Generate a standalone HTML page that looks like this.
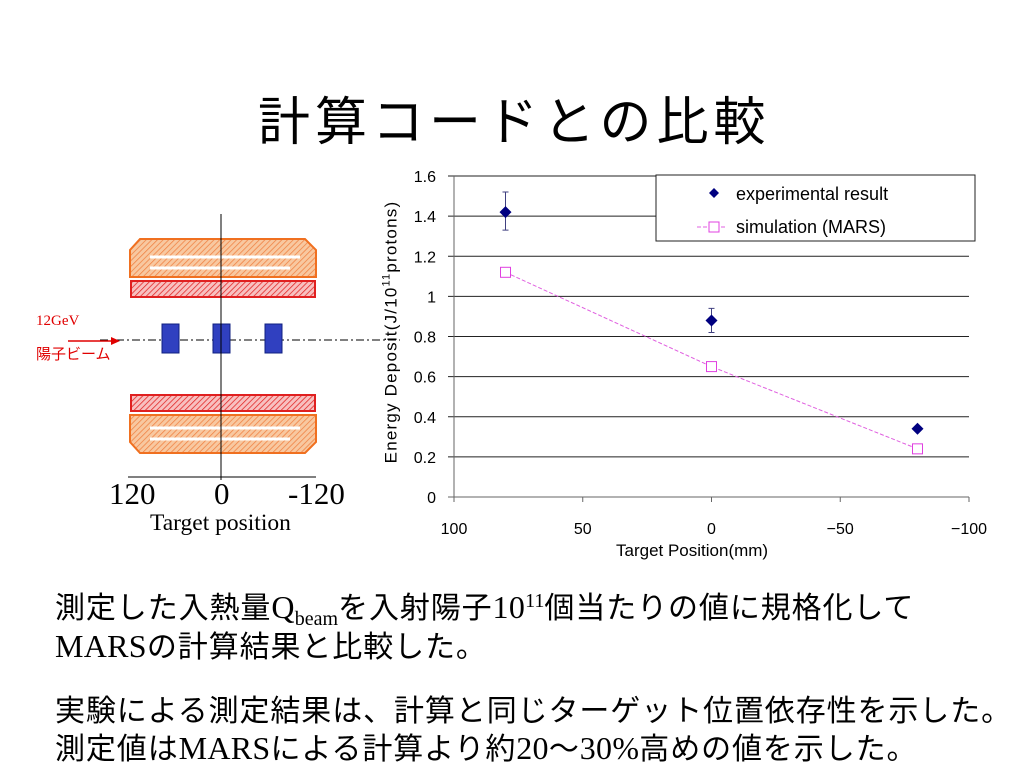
<!DOCTYPE html>
<html><head><meta charset="utf-8"><style>
body{margin:0;width:1024px;height:768px;background:#fff;overflow:hidden;position:relative;font-family:"Liberation Sans","Noto Sans CJK JP",sans-serif}
.t{position:absolute;white-space:nowrap}
.jp{font-family:"Liberation Serif","Noto Sans CJK JP",serif}
.body{font-size:30px;letter-spacing:0.9px;font-family:'Liberation Serif','Noto Sans CJK JP',serif}
.l{font-size:32px;letter-spacing:0.3px}
</style></head><body>
<div class="t" style="left:258px;top:80px;font-size:52px;letter-spacing:5px;font-family:'Noto Sans CJK JP',sans-serif">計算コードとの比較</div>

<svg width="400" height="330" style="position:absolute;left:0;top:210px">
<defs><pattern id="h" width="4" height="4" patternUnits="userSpaceOnUse" patternTransform="rotate(45)"><rect width="4" height="4" fill="#f8c8a0"/><line x1="0" y1="0" x2="0" y2="4" stroke="#f08040" stroke-width="1.5"/></pattern>
<pattern id="hr" width="4" height="4" patternUnits="userSpaceOnUse" patternTransform="rotate(45)"><rect width="4" height="4" fill="#f8c0c0"/><line x1="0" y1="0" x2="0" y2="4" stroke="#e02020" stroke-width="1.5"/></pattern></defs>
<polygon points="140,29 305,29 316,40 316,67 130,67 130,40" fill="url(#h)" stroke="#f07020" stroke-width="2"/>
<rect x="131" y="71" width="184" height="16" fill="url(#hr)" stroke="#e02020" stroke-width="2"/>
<rect x="131" y="185" width="184" height="16" fill="url(#hr)" stroke="#e02020" stroke-width="2"/>
<polygon points="130,205 316,205 316,232 305,243 140,243 130,232" fill="url(#h)" stroke="#f07020" stroke-width="2"/>
<path d="M150,47 H300 M150,58 H290 M150,218 H300 M150,229 H290" stroke="#fff" stroke-width="3" fill="none"/>
<line x1="100" y1="130" x2="400" y2="130" stroke="#000" stroke-dasharray="8,3,2,3"/>
<rect x="162" y="114" width="17" height="29" fill="#3040c0" stroke="#102080"/>
<rect x="213" y="114" width="17" height="29" fill="#3040c0" stroke="#102080"/>
<rect x="265" y="114" width="17" height="29" fill="#3040c0" stroke="#102080"/>
<line x1="221" y1="4" x2="221" y2="270" stroke="#000"/>
<line x1="128" y1="267" x2="316" y2="267" stroke="#000"/>
<line x1="68" y1="131" x2="115" y2="131" stroke="#e00000" stroke-width="1.5"/>
<polygon points="120,131 111,127 111,135" fill="#e00000"/>
</svg>
<div class="t jp" style="left:36px;top:313px;font-size:15px;color:#e00000">12GeV</div>
<div class="t" style="left:36px;top:343px;font-size:15px;color:#e00000;font-family:'Noto Sans CJK JP',sans-serif">陽子ビーム</div>
<div class="t jp" style="left:109px;top:476px;font-size:31px">120</div>
<div class="t jp" style="left:214px;top:476px;font-size:31px">0</div>
<div class="t jp" style="left:288px;top:476px;font-size:31px">-120</div>
<div class="t jp" style="left:150px;top:510px;font-size:23.5px">Target position</div>

<svg id="chart" width="1024" height="580" style="position:absolute;left:0;top:0"></svg>

<div class="t" style="left:391px;top:332px;font-size:17px;letter-spacing:1.2px;transform:translate(-50%,-50%) rotate(-90deg)">Energy Deposit(J/10<sup style="font-size:11px">11</sup>protons)</div>
<div class="t" style="left:616px;top:541px;font-size:17px">Target Position(mm)</div>

<div class="t body" style="left:55px;top:583px">測定した入熱量<span class="l">Q</span><sub style="font-size:20px;letter-spacing:0">beam</sub>を入射陽子<span class="l">10</span><sup style="font-size:20px;letter-spacing:0">11</sup>個当たりの値に規格化して</div>
<div class="t body" style="left:55px;top:622px"><span class="l">MARS</span>の計算結果と比較した。</div>
<div class="t body" style="left:55px;top:686px">実験による測定結果は、計算と同じターゲット位置依存性を示した。</div>
<div class="t body" style="left:55px;top:724px">測定値は<span class="l">MARS</span>による計算より約<span class="l">20</span>～<span class="l">30%</span>高めの値を示した。</div>

<script>
const positions=[80,0,-80];
const expValues=[1.42,0.88,0.34];
const expErrLow=[1.33,0.82,0.33];
const expErrHigh=[1.52,0.94,0.35];
const simValues=[1.12,0.65,0.24];
const yTicks=[0,0.2,0.4,0.6,0.8,1,1.2,1.4,1.6];
const yTickLabels=["0","0.2","0.4","0.6","0.8","1","1.2","1.4","1.6"];
const xTicks=[100,50,0,-50,-100];
const xTickLabels=["100","50","0","\u221250","\u2212100"];
const svg=document.getElementById('chart');const NS='http://www.w3.org/2000/svg';
const X=v=>454+(100-v)/200*515;const Y=v=>497-v/1.6*321;
function mk(t,a,txt){const e=document.createElementNS(NS,t);for(const k in a)e.setAttribute(k,a[k]);if(txt!=null)e.textContent=txt;svg.appendChild(e);return e;}
yTicks.forEach((v,i)=>{
 const g=mk('line',{x1:448,x2:969,y1:Y(v),y2:Y(v),stroke:v===0?'#666':'#222','stroke-width':1});
 
 
 const t=mk('text',{x:436,y:Y(v)+6,'text-anchor':'end','font-size':16,'font-family':'Liberation Sans'},yTickLabels[i]);
 
 
});
const ax=mk('line',{x1:454,x2:454,y1:Y(1.6),y2:Y(0),stroke:'#666'});


xTicks.forEach((v,i)=>{
 const l=mk('line',{x1:X(v),x2:X(v),y1:497,y2:502,stroke:'#666'});
 
 
 const t=mk('text',{x:X(v),y:534,'text-anchor':'middle','font-size':16,'font-family':'Liberation Sans'},xTickLabels[i]);
 
 
});
const pts=positions.map((p,i)=>X(p)+','+Y(simValues[i])).join(' ');
const sl=mk('polyline',{points:pts,fill:'none',stroke:'#e060e0','stroke-width':1,'stroke-dasharray':'4,2'});


positions.forEach((p,i)=>{
 const s=mk('rect',{x:X(p)-5,y:Y(simValues[i])-5,width:10,height:10,fill:'#fff',stroke:'#e040e0'});
 
 
 const e=mk('path',{d:`M${X(p)},${Y(expErrLow[i])}V${Y(expErrHigh[i])}M${X(p)-3},${Y(expErrLow[i])}h6M${X(p)-3},${Y(expErrHigh[i])}h6`,stroke:'#404080',fill:'none'});
 
 
 const x=X(p),y=Y(expValues[i]);
 const d=mk('polygon',{points:`${x},${y-6} ${x+6},${y} ${x},${y+6} ${x-6},${y}`,fill:'#000080'});
 
 
});
const lb=mk('rect',{x:656,y:175,width:319,height:66,fill:'#fff',stroke:'#222'});


const ld=mk('polygon',{points:'714,188 719,193 714,198 709,193',fill:'#000080'});


const lt1=mk('text',{x:736,y:200,'font-size':18,'font-family':'Liberation Sans'},'experimental result');


const ll=mk('line',{x1:697,x2:725,y1:227,y2:227,stroke:'#e060e0','stroke-dasharray':'4,2'});


const lr=mk('rect',{x:709,y:222,width:10,height:10,fill:'#fff',stroke:'#e040e0'});


const lt2=mk('text',{x:736,y:233,'font-size':18,'font-family':'Liberation Sans'},'simulation (MARS)');


</script>
</body></html>
